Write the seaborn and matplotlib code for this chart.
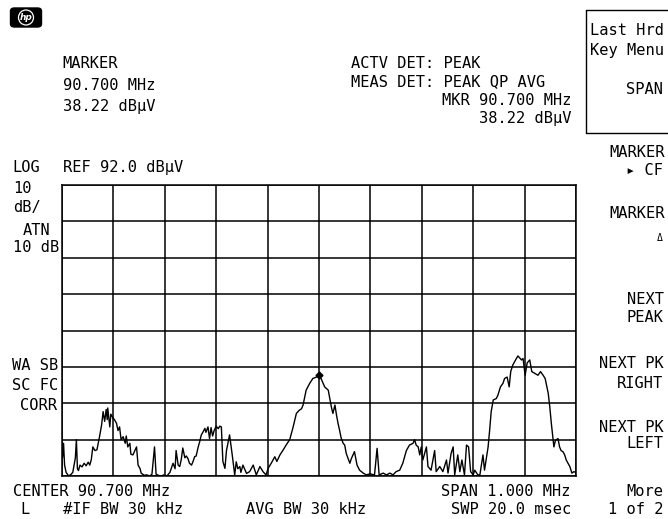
import numpy as np
import pandas as pd
import matplotlib
matplotlib.use("Agg")
import matplotlib.pyplot as plt
import seaborn as sns
from matplotlib.patches import FancyBboxPatch, Ellipse
from matplotlib.lines import Line2D

freq_mhz = [
    90.201, 90.203, 90.205, 90.208, 90.213, 90.218, 90.221, 90.226, 90.228, 90.230,
    90.232, 90.235, 90.239, 90.243, 90.247, 90.251, 90.254, 90.257, 90.260, 90.264,
    90.268, 90.273, 90.277, 90.280, 90.283, 90.286, 90.288, 90.289, 90.293, 90.295,
    90.299, 90.302, 90.306, 90.309, 90.312, 90.315, 90.319, 90.323, 90.325, 90.328,
    90.332, 90.334, 90.338, 90.345, 90.348, 90.352, 90.354, 90.360, 90.365, 90.371,
    90.375, 90.380, 90.383, 90.387, 90.393, 90.398, 90.404, 90.410, 90.416, 90.420,
    90.422, 90.426, 90.429, 90.432, 90.435, 90.439, 90.442, 90.445, 90.448, 90.452,
    90.455, 90.458, 90.461, 90.465, 90.468, 90.471, 90.474, 90.478, 90.480, 90.484,
    90.487, 90.490, 90.493, 90.496, 90.500, 90.504, 90.507, 90.510, 90.513, 90.517,
    90.520, 90.526, 90.531, 90.536, 90.539, 90.542, 90.546, 90.548, 90.552, 90.559,
    90.565, 90.572, 90.578, 90.585, 90.591, 90.597, 90.601, 90.607, 90.614, 90.618,
    90.624, 90.630, 90.636, 90.643, 90.649, 90.656, 90.661, 90.666, 90.669, 90.675,
    90.682, 90.688, 90.695, 90.700, 90.702, 90.704, 90.711, 90.718, 90.721, 90.724,
    90.727, 90.731, 90.734, 90.737, 90.740, 90.743, 90.747, 90.750, 90.753, 90.760,
    90.763, 90.769, 90.774, 90.779, 90.786, 90.792, 90.799, 90.808, 90.813, 90.817,
    90.825, 90.831, 90.838, 90.844, 90.850, 90.857, 90.863, 90.870, 90.876, 90.883,
    90.886, 90.889, 90.893, 90.896, 90.899, 90.902, 90.909, 90.912, 90.918, 90.925,
    90.928, 90.935, 90.941, 90.948, 90.951, 90.957, 90.961, 90.964, 90.970, 90.974,
    90.978, 90.983, 90.987, 90.991, 90.995, 91.000, 91.003, 91.009, 91.013, 91.019,
    91.022, 91.025, 91.029, 91.032, 91.035, 91.039, 91.045, 91.048, 91.053, 91.058,
    91.061, 91.066, 91.070, 91.073, 91.077, 91.084, 91.087, 91.094, 91.097, 91.101,
    91.105, 91.110, 91.114, 91.120, 91.126, 91.131, 91.136, 91.140, 91.146, 91.149,
    91.152, 91.157, 91.160, 91.165, 91.168, 91.171, 91.175, 91.178, 91.181, 91.188,
    91.192, 91.196, 91.199,
]
level_dbuv = [
    17.0, 21.0, 15.0, 13.0, 12.0, 12.5, 13.0, 17.0, 22.0, 14.0,
    13.5, 15.0, 14.5, 15.5, 14.8, 15.8, 15.0, 16.5, 20.0, 19.0,
    19.2, 22.8, 26.0, 29.7, 27.0, 30.3, 27.5, 30.7, 25.5, 29.0,
    28.0, 27.5, 26.5, 24.5, 25.5, 22.0, 22.8, 21.0, 23.0, 20.0,
    21.0, 18.0, 17.8, 20.0, 15.0, 14.0, 12.8, 12.2, 12.3, 12.0,
    12.5, 20.0, 12.5, 12.2, 12.0, 12.3, 12.0, 13.0, 15.5, 14.0,
    19.0, 15.0, 14.6, 16.5, 19.7, 17.0, 17.5, 16.8, 15.5, 15.0,
    16.0, 17.3, 17.5, 20.0, 21.5, 23.3, 24.0, 25.1, 24.0, 25.5,
    22.3, 25.3, 23.0, 24.5, 25.7, 25.0, 25.7, 25.5, 16.0, 14.1,
    19.0, 23.3, 18.0, 12.3, 15.9, 14.0, 14.6, 13.0, 15.0, 12.7,
    13.2, 15.0, 12.3, 14.6, 13.2, 12.3, 14.1, 15.5, 17.3, 16.0,
    17.8, 19.1, 20.5, 22.0, 25.1, 29.2, 30.0, 30.5, 31.5, 35.6,
    37.5, 38.8, 39.2, 39.7, 39.0, 38.8, 36.5, 35.6, 33.3, 31.0,
    29.2, 31.5, 28.8, 26.5, 24.6, 22.5, 21.0, 20.5, 18.2, 15.5,
    16.8, 18.7, 15.0, 13.6, 12.8, 12.3, 12.6, 12.3, 19.6, 12.3,
    12.8, 12.3, 12.8, 12.3, 13.2, 13.6, 15.5, 19.0, 20.5, 21.0,
    22.0, 20.5, 20.0, 17.8, 20.0, 16.4, 20.0, 14.6, 13.6, 19.0,
    13.2, 14.6, 13.2, 16.4, 12.8, 18.2, 20.0, 12.3, 17.8, 13.2,
    16.4, 12.3, 20.5, 20.0, 13.2, 12.3, 13.6, 12.3, 12.3, 17.8,
    13.6, 16.4, 20.0, 24.6, 29.7, 32.9, 33.3, 34.2, 36.5, 37.5,
    38.8, 39.2, 36.5, 40.7, 42.5, 44.3, 45.0, 43.9, 44.3, 39.7,
    43.1, 43.9, 40.7, 40.2, 39.7, 40.7, 39.7, 38.8, 34.7, 31.0,
    26.5, 20.0, 21.8, 22.3, 20.0, 19.0, 18.6, 17.8, 16.4, 14.6,
    12.8, 13.2, 13.0,
]
center_mhz = 90.700
span_mhz = 1.000
ref_dbuv = 92.0
db_per_div = 10
n_xdiv = 10
n_ydiv = 8
marker_freq_mhz = 90.700
marker_level_text = "38.22"

# ---------------- figure ----------------
sns.set_style("white")
plt.rcParams["font.family"] = ["DejaVu Sans Mono", "DejaVu Sans"]

W, H = 668, 519
fig = plt.figure(figsize=(W / 100, H / 100), dpi=100, facecolor="white")

gx0, gx1, gy0, gy1 = 62, 576, 185, 476
ax = fig.add_axes([gx0 / W, 1 - gy1 / H, (gx1 - gx0) / W, (gy1 - gy0) / H])

df = pd.DataFrame({"freq": freq_mhz, "level": level_dbuv})
sns.lineplot(data=df, x="freq", y="level", ax=ax, color="black",
             linewidth=1.0, estimator=None, sort=False)

f0 = center_mhz - span_mhz / 2
f1 = center_mhz + span_mhz / 2
bottom = ref_dbuv - n_ydiv * db_per_div
ax.set_xlim(f0, f1)
ax.set_ylim(bottom, ref_dbuv)
ax.set_xticks(np.linspace(f0, f1, n_xdiv + 1))
ax.set_yticks(np.linspace(bottom, ref_dbuv, n_ydiv + 1))
ax.grid(True, color="black", linewidth=1.1)
ax.tick_params(length=0, labelbottom=False, labelleft=False)
ax.set_xlabel("")
ax.set_ylabel("")
for s in ax.spines.values():
    s.set_color("black")
    s.set_linewidth(1.1)

# marker on the trace
mk_y = np.interp(marker_freq_mhz, freq_mhz, level_dbuv)
ax.plot([marker_freq_mhz], [mk_y], marker="D", markersize=3.5, color="black")

FS = 11.1


def T(x, yb, s, ha="left", fs=FS, **kw):
    fig.text(x / W, 1 - yb / H, s, ha=ha, va="baseline", fontsize=fs,
             color="black", **kw)


# header left
T(62.7, 68, "MARKER")
T(62.7, 89.5, f"{marker_freq_mhz:.3f} MHz")
T(62.7, 110.5, f"{marker_level_text} dBµV")

# header right
T(350.7, 68.5, "ACTV DET: PEAK")
T(350.7, 86, "MEAS DET: PEAK QP AVG")
T(571.5, 105, f"MKR {marker_freq_mhz:.3f} MHz", ha="right")
T(571.5, 123, f"{marker_level_text} dBµV", ha="right")

# left annotations
T(12.7, 172, "LOG")
T(62.7, 172, f"REF {ref_dbuv:.1f} dBµV")
T(12.7, 193, "10")
T(12.7, 212, "dB/")
T(22.7, 235, "ATN")
T(12.7, 252, "10 dB")
T(11.7, 369.5, "WA SB")
T(11.7, 390, "SC FC")
T(57.3, 410.5, "CORR", ha="right")

# bottom
T(12.7, 496, f"CENTER {center_mhz:.3f} MHz")
T(20, 513.5, "L")
T(63.3, 513.5, "#IF BW 30 kHz")
T(246, 513.5, "AVG BW 30 kHz")
T(570.7, 496, f"SPAN {span_mhz:.3f} MHz", ha="right")
T(571.7, 513.5, "SWP 20.0 msec", ha="right")

# softkey box
for xs, ys in [((585.5, 669), (9.5, 9.5)), ((585.5, 585.5), (9.5, 132.5)),
               ((585.5, 669), (132.5, 132.5))]:
    fig.add_artist(Line2D([x / W for x in xs], [1 - y / H for y in ys],
                          color="black", linewidth=1.0))
T(590.5, 35, "Last Hrd")
T(590.5, 55, "Key Menu")
T(663, 93.5, "SPAN", ha="right")

# softkeys
T(664.5, 157, "MARKER", ha="right")
T(663.5, 175, "▸ CF", ha="right")
T(664.5, 218.5, "MARKER", ha="right")
T(663, 241, "Δ", ha="right", fs=7)
T(664, 303.5, "NEXT", ha="right")
T(664, 321.5, "PEAK", ha="right")
T(663.5, 368.5, "NEXT PK", ha="right")
T(663.5, 387.5, "RIGHT", ha="right")
T(663.5, 432, "NEXT PK", ha="right")
T(663.5, 448.5, "LEFT", ha="right")
T(663.5, 495.5, "More", ha="right")
T(663.5, 513.5, "1 of 2", ha="right")

# hp logo
logo = FancyBboxPatch((10.5 / W, 1 - 27 / H), 31 / W, 19 / H,
                      boxstyle="round,pad=0,rounding_size=0.006",
                      transform=fig.transFigure, facecolor="black",
                      edgecolor="black")
fig.add_artist(logo)
fig.add_artist(Ellipse((26 / W, 1 - 17.5 / H), 15 / W, 15 / H,
                       transform=fig.transFigure, facecolor="none",
                       edgecolor="white", linewidth=0.9))
fig.text(26 / W, 1 - 17.5 / H, "hp", ha="center", va="center", color="white",
         fontsize=6.5, fontstyle="italic", fontweight="bold",
         family=["DejaVu Sans"])

fig.savefig("out.png", dpi=100, facecolor="white")
